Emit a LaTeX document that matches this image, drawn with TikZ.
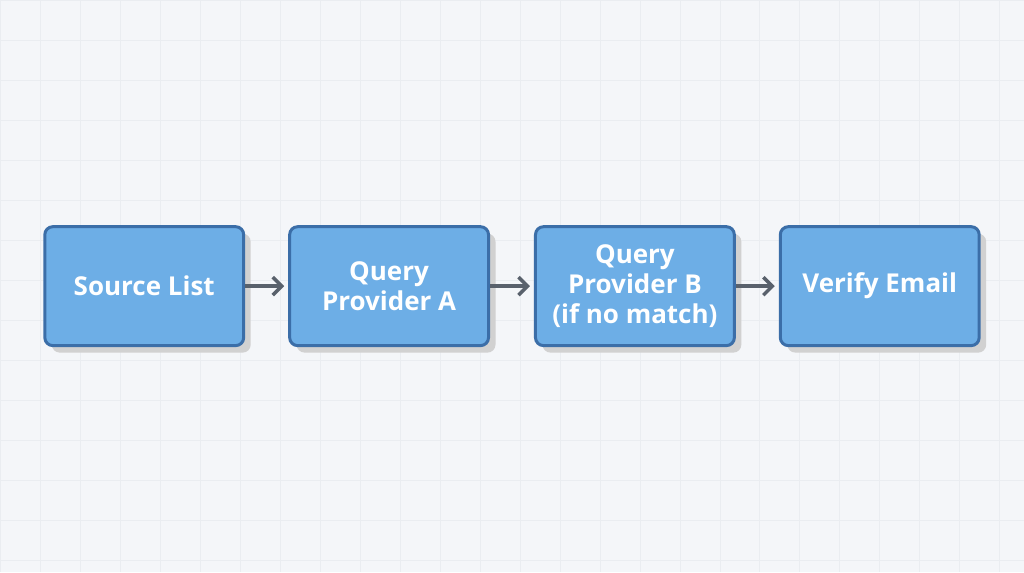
\documentclass[tikz,border=0pt]{standalone}
\usepackage{fontspec}
\setmainfont{Open Sans}
\usetikzlibrary{arrows.meta,shadows}
\definecolor{bgcol}{HTML}{F4F6F9}
\definecolor{gridcol}{HTML}{EAEDF1}
\definecolor{boxfill}{HTML}{6DAEE6}
\definecolor{boxline}{HTML}{3B6EA8}
\definecolor{arrowcol}{HTML}{59616C}
\begin{document}
\begin{tikzpicture}[x=1pt, y=-1pt,
    stage/.style={draw=boxline, line width=3pt, fill=boxfill, rounded corners=8pt,
      minimum width=199pt, minimum height=119pt, text=white, align=center,
      font=\fontsize{26}{30}\selectfont\bfseries,
      drop shadow={shadow xshift=7pt, shadow yshift=-7pt, fill=black!18, opacity=1}},
    flow/.style={-{Straight Barb[length=9pt,width=18pt,line width=3.5pt]}, line width=4pt,
      draw=arrowcol, shorten >=4pt}]

  % background
  \fill[bgcol] (0,0) rectangle (1024,572);
  \draw[gridcol, line width=0.7pt] (0,0) grid[step=40pt] (1024,572);
  \useasboundingbox (0,0) rectangle (1024,572);

  % stages
  \node[stage] (src) at (144,286) {Source List};
  \node[stage] (qa)  at (389,286) {Query\\Provider A};
  \node[stage] (qb)  at (635,286) {Query\\Provider B\\(if no match)};
  \node[stage] (ver) at (880,286) {Verify Email};

  % arrows between stages
  \draw[flow] (src) -- (qa);
  \draw[flow] (qa) -- (qb);
  \draw[flow] (qb) -- (ver);

\end{tikzpicture}
\end{document}
